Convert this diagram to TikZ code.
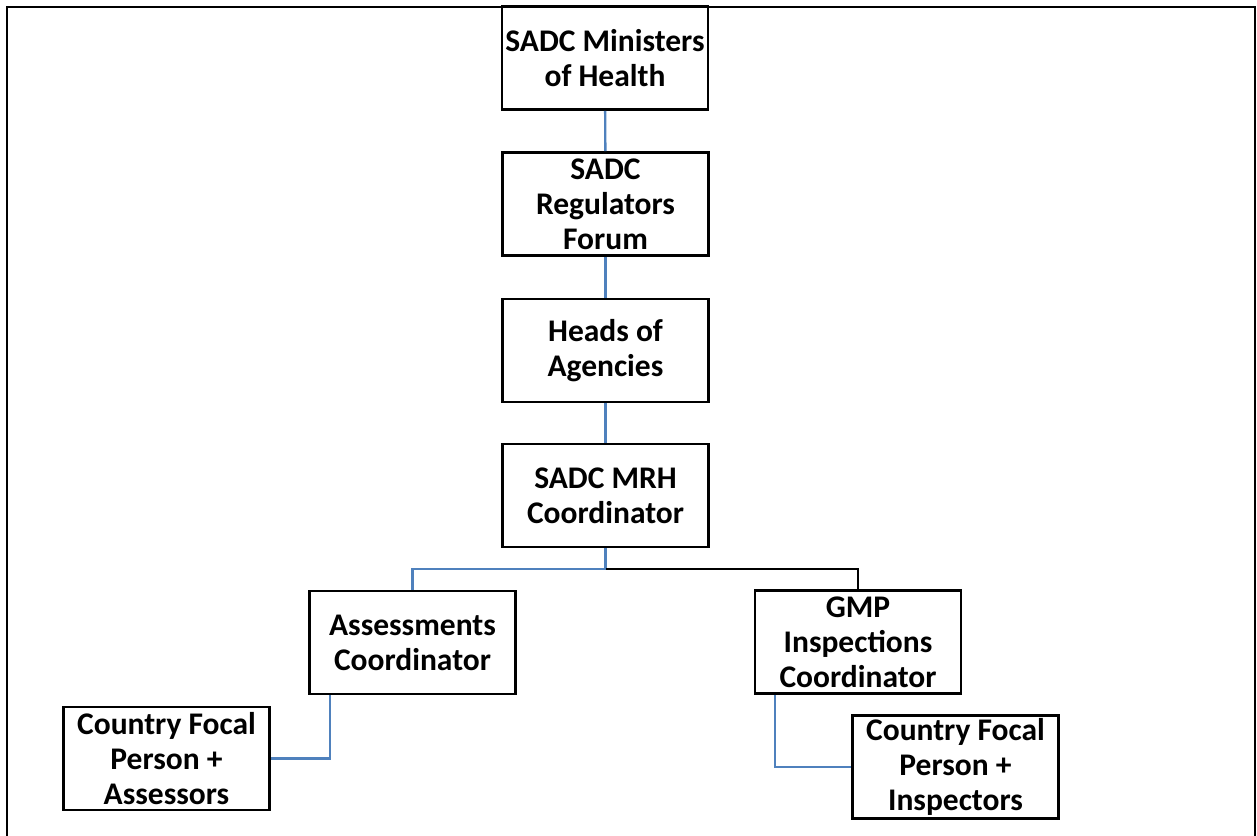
\documentclass[tikz,border=0pt]{standalone}
\usepackage{fontspec}
\setmainfont{Carlito}
\begin{document}
\begin{tikzpicture}[x=1pt,y=-1pt,
  orgbox/.style={draw=black,line width=2.6pt,fill=white,minimum width=206pt,minimum height=103pt,inner sep=0pt,align=center,font=\fontsize{31.5}{35}\selectfont\bfseries},
  blueline/.style={draw={rgb,255:red,79;green,129;blue,189},line width=2.4pt},
  blackline/.style={draw=black,line width=2.4pt}]
\useasboundingbox (0,0) rectangle (1257,835);
\draw[line width=1.6pt] (7,845) -- (7,7) -- (1255,7) -- (1255,845);
\node[orgbox] (min) at (605,58) {SADC Ministers\\of Health};
\node[orgbox] (reg) at (605.5,204) {SADC\\Regulators\\Forum};
\node[orgbox] (hoa) at (605.5,350.5) {Heads of\\Agencies};
\node[orgbox] (mrh) at (605.5,495.5) {SADC MRH\\Coordinator};
\node[orgbox] (asc) at (412.5,642.5) {Assessments\\Coordinator};
\node[orgbox] (gmp) at (858,642) {GMP\\Inspections\\Coordinator};
\node[orgbox] (fpa) at (166.5,758.5) {Country Focal\\Person +\\Assessors};
\node[orgbox] (fpi) at (955.5,767) {Country Focal\\Person +\\Inspectors};
\coordinate (jn) at (605.5,569);
\draw[blueline] (min) -- (reg);
\draw[blueline] (reg) -- (hoa);
\draw[blueline] (hoa) -- (mrh);
\draw[blueline] (mrh) -- (jn) -| (asc.north);
\draw[blackline] (jn) -| (gmp.north);
\draw[blueline] ([xshift=22pt]asc.south west) |- (fpa.east);
\draw[blueline] ([xshift=21pt]gmp.south west) |- (fpi.west);
\end{tikzpicture}
\end{document}
